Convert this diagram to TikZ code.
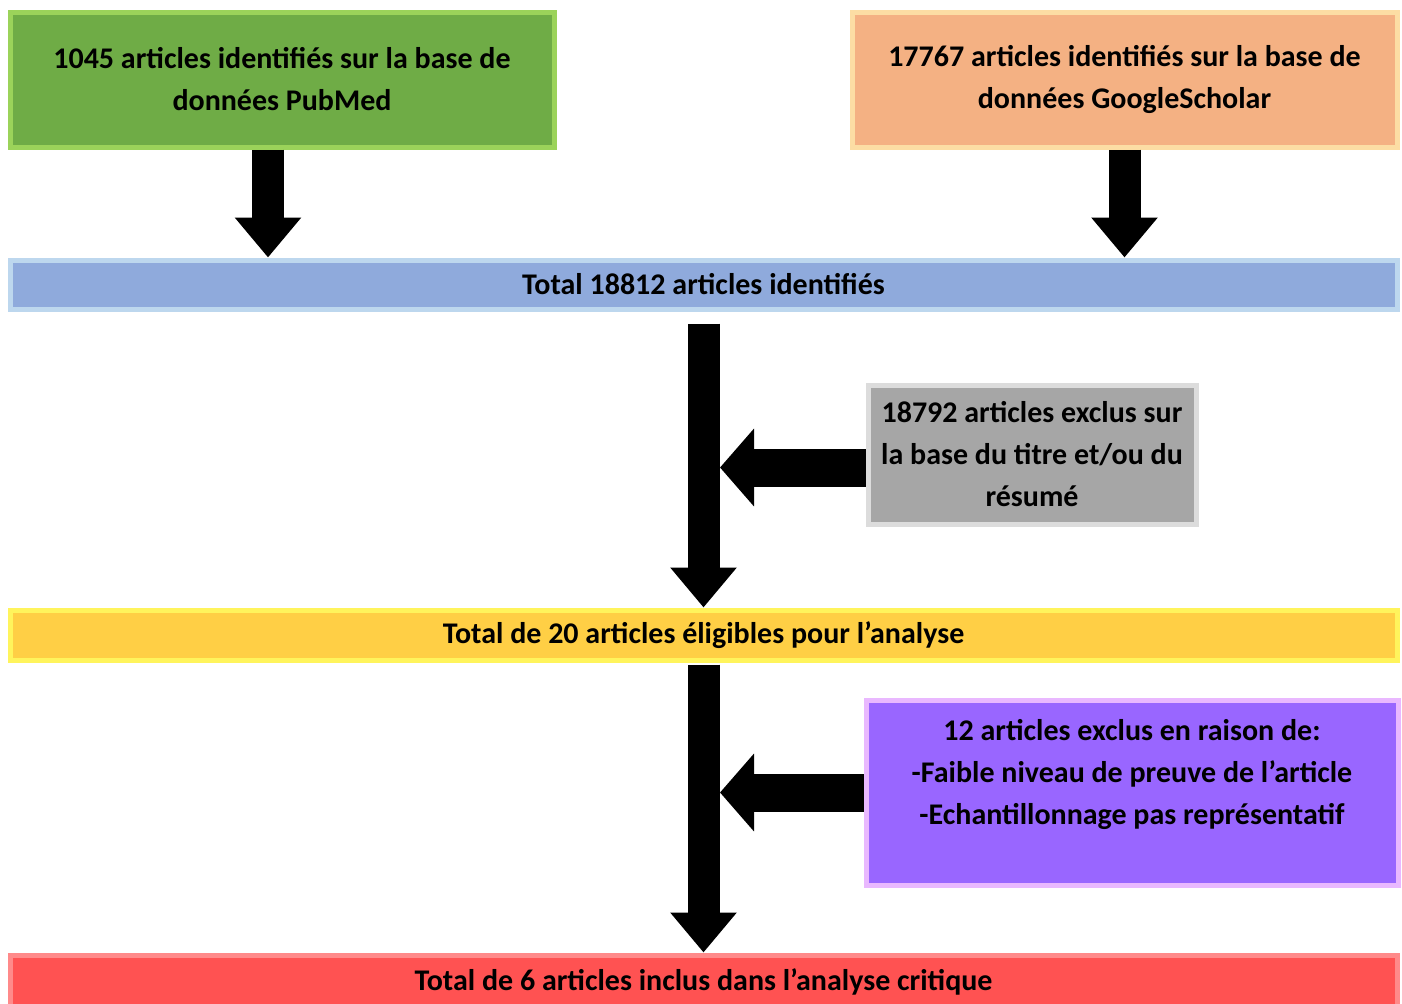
\documentclass[tikz,border=0pt]{standalone}
\usepackage{fontspec}
\setmainfont{Carlito}
\usetikzlibrary{arrows.meta,positioning,calc}
\definecolor{pubgreen}{HTML}{6FAC46}
\definecolor{pubgreenedge}{HTML}{9BD35A}
\definecolor{gsorange}{HTML}{F4B183}
\definecolor{gsorangeedge}{HTML}{FCDDA4}
\definecolor{totblue}{HTML}{8FAADC}
\definecolor{totblueedge}{HTML}{BDD7EE}
\definecolor{exgrey}{HTML}{A6A6A6}
\definecolor{exgreyedge}{HTML}{DCDCDC}
\definecolor{eligyellow}{HTML}{FFCF45}
\definecolor{eligyellowedge}{HTML}{FFF45C}
\definecolor{expurple}{HTML}{9966FF}
\definecolor{expurpleedge}{HTML}{E9B8FF}
\definecolor{inclred}{HTML}{FF5252}
\definecolor{incllightred}{HTML}{FF8A8A}

\tikzset{
  flowbox/.style={rectangle, line width=2.5pt, align=center, inner sep=0pt,
    font=\fontsize{15}{21}\selectfont\bfseries},
  blockdown/.style={line width=16pt, -{Triangle[length=20pt, width=32pt]}},
  blockleft/.style={line width=19pt, -{Triangle[length=17pt, width=38pt]}}
}

\begin{document}
\begin{tikzpicture}[x=0.5pt, y=-0.5pt]
  \useasboundingbox (0,0) rectangle (1402,1003);
  \clip (0,0) rectangle (1402,1003);

  % sources
  \node[flowbox, fill=pubgreen, draw=pubgreenedge, minimum width=272pt, minimum height=67.5pt]
    (pubmed) at (282,79.5) {1045 articles identifiés sur la base de\\données PubMed};
  \node[flowbox, fill=gsorange, draw=gsorangeedge, minimum width=272.5pt, minimum height=67.5pt]
    (scholar) at (1124.5,79.5) {17767 articles identifiés sur la base de\\données GoogleScholar};

  % totals and exclusions
  \node[flowbox, fill=totblue, draw=totblueedge, minimum width=693.5pt, minimum height=24.5pt]
    (identified) at (703.5,284.5) {Total 18812 articles identifiés};
  \node[flowbox, fill=exgrey, draw=exgreyedge, minimum width=164pt, minimum height=69.5pt]
    (titlecut) at (1032,454.5) {18792 articles exclus sur\\la base du titre et/ou du\\résumé};
  \node[flowbox, fill=eligyellow, draw=eligyellowedge, minimum width=693.5pt, minimum height=25pt]
    (eligible) at (703.5,635) {Total de 20 articles éligibles pour l’analyse};
  \node[flowbox, fill=expurple, draw=expurpleedge, minimum width=266pt, minimum height=92.5pt]
    (lowproof) at (1132,792.5) {12 articles exclus en raison de:\\-Faible niveau de preuve de l’article\\-Echantillonnage pas représentatif\\\mbox{}};
  \node[flowbox, fill=inclred, draw=incllightred, minimum width=693.5pt, minimum height=27pt]
    (included) at (703.5,982) {Total de 6 articles inclus dans l’analyse critique};

  \coordinate (spine) at (720,0);

  % arrows
  \draw[blockdown] ([xshift=-7pt]pubmed.south) -- ([xshift=-7pt]pubmed.south |- identified.north);
  \draw[blockdown] (scholar.south) -- (scholar.south |- identified.north);
  \draw[blockdown, shorten <=6pt] (identified.south) -- (eligible.north);
  \draw[blockleft] ([yshift=-6.5pt]titlecut.west) -- ([yshift=-6.5pt]titlecut.west -| spine);
  \draw[blockdown, shorten <=1pt] (eligible.south) -- (included.north);
  \draw[blockleft] (lowproof.west) -- (lowproof.west -| spine);
\end{tikzpicture}
\end{document}
